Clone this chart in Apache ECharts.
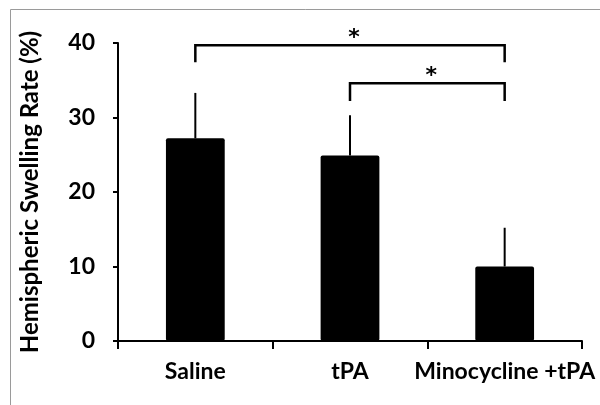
<!DOCTYPE html>
<html>
<head>
<meta charset="utf-8">
<script src="https://cdn.jsdelivr.net/npm/echarts@6/dist/echarts.min.js"></script>
<style>
html,body{margin:0;padding:0;background:#fff;}
#chart{width:600px;height:405px;}
</style>
</head>
<body>
<div id="chart"></div>
<script>
// ---- data ----
var categories = ['Saline', 'tPA', 'Minocycline +tPA'];
var meanValues = [27.2, 24.9, 10.0];
var errorUpper = [33.3, 30.3, 15.2];
var yTicks = [0, 10, 20, 30, 40];
// brackets: [fromIndex, toIndex, lineY, dropY, label]
var bracketFrom = [0, 1];
var bracketTo = [2, 2];
var bracketTopY = [39.7, 34.6];
var bracketDropY = [37.4, 32.2];
var bracketLabels = ['*', '*'];

var FONT = 'Lato';

var errorData = categories.map(function (c, i) { return [i, meanValues[i], errorUpper[i]]; });
var bracketData = bracketFrom.map(function (f, i) {
  return [f, bracketTo[i], bracketTopY[i], bracketDropY[i], bracketLabels[i]];
});

var chart = echarts.init(document.getElementById('chart'), null, { renderer: 'canvas' });
chart.setOption({
  animation: false,
  backgroundColor: '#fff',
  graphic: [{
    type: 'rect', left: 8, top: 7, z: -10,
    shape: { x: 0.5, y: 0.5, width: 620, height: 420 },
    style: { fill: 'none', stroke: '#9a9a9a', lineWidth: 1 }
  }],
  grid: { left: 118, right: 18, top: 43, bottom: 64, containLabel: false },
  xAxis: {
    type: 'category',
    data: categories,
    axisLine: { lineStyle: { color: '#000', width: 2 } },
    axisTick: { show: true, length: 8, lineStyle: { color: '#000', width: 2 } },
    axisLabel: { color: '#000', fontFamily: FONT, fontWeight: 'bold', fontSize: 23, margin: 19,
                 interval: 0, hideOverlap: false }
  },
  yAxis: {
    type: 'value',
    min: yTicks[0], max: yTicks[yTicks.length - 1], interval: 10,
    name: 'Hemispheric Swelling Rate (%)',
    nameLocation: 'middle',
    nameGap: 76,
    nameRotate: 90,
    nameTextStyle: { color: '#000', fontFamily: FONT, fontWeight: 'bold', fontSize: 24 },
    axisLine: { show: true, lineStyle: { color: '#000', width: 2 } },
    axisTick: { show: true, length: 5, lineStyle: { color: '#000', width: 2 } },
    axisLabel: { color: '#000', fontFamily: FONT, fontWeight: 'bold', fontSize: 23, margin: 23 },
    splitLine: { show: false }
  },
  series: [
    {
      type: 'bar',
      data: meanValues,
      barWidth: '38%',
      itemStyle: { color: '#000', borderRadius: 2 },
      z: 2
    },
    {
      type: 'custom',
      data: errorData,
      z: 3,
      renderItem: function (params, api) {
        var p0 = api.coord([api.value(0), api.value(1)]);
        var p1 = api.coord([api.value(0), api.value(2)]);
        return {
          type: 'line',
          shape: { x1: p0[0], y1: p0[1], x2: p1[0], y2: p1[1] },
          style: { stroke: '#000', lineWidth: 2 }
        };
      }
    },
    {
      type: 'custom',
      data: bracketData,
      clip: false,
      z: 4,
      renderItem: function (params, api) {
        var a = api.coord([api.value(0), api.value(2)]);
        var b = api.coord([api.value(1), api.value(2)]);
        var ad = api.coord([api.value(0), api.value(3)]);
        var bd = api.coord([api.value(1), api.value(3)]);
        var label = bracketData[params.dataIndex][4];
        return {
          type: 'group',
          children: [
            {
              type: 'polyline',
              shape: { points: [[ad[0], ad[1]], [a[0], a[1]], [b[0], b[1]], [bd[0], bd[1]]] },
              style: { stroke: '#000', lineWidth: 2.5, fill: 'none' }
            },
            {
              type: 'text',
              style: {
                x: (a[0] + b[0]) / 2 + 4, y: a[1] - 7,
                text: label, fill: '#000',
                font: 'bold 22px "DejaVu Sans"',
                textAlign: 'center', textVerticalAlign: 'middle'
              }
            }
          ]
        };
      }
    }
  ]
});
</script>
</body>
</html>
